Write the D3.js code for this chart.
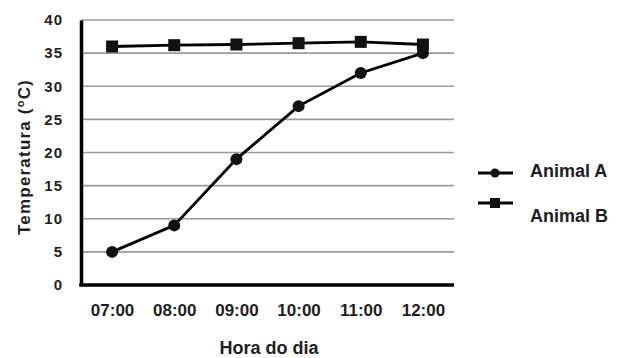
<!DOCTYPE html>
<html>
<head>
<meta charset="utf-8">
<script src="https://cdn.jsdelivr.net/npm/d3@7"></script>
<style>
  html, body { margin: 0; padding: 0; background: #fff; }
  svg { display: block; font-family: Arial, "Liberation Sans", sans-serif; }
</style>
</head>
<body>
<svg id="chart" width="627" height="358"></svg>
<script>
// Hours of the day (x categories)
const hours = ["07:00", "08:00", "09:00", "10:00", "11:00", "12:00"];
// Body temperature (°C) for each animal
const animalA = [5, 9, 19, 27, 32, 35];
const animalB = [36, 36.2, 36.3, 36.5, 36.7, 36.3];
// Y tick values
const yTicks = [0, 5, 10, 15, 20, 25, 30, 35, 40];

const svg = d3.select("#chart");
const plotLeft = 81, plotRight = 454, plotTop = 20, plotBottom = 285;
const ink = "#1e1e1e";

const x = d3.scalePoint().domain(hours).range([plotLeft, plotRight]).padding(0.5);
const y = d3.scaleLinear().domain([0, 40]).range([plotBottom, plotTop]);

// Horizontal gridlines
svg.append("g")
  .selectAll("line")
  .data(yTicks.filter(d => d > 0))
  .join("line")
  .attr("x1", plotLeft).attr("x2", plotRight)
  .attr("y1", d => y(d)).attr("y2", d => y(d))
  .attr("stroke", "#9a9a9a").attr("stroke-width", 1.7);

// Y axis
const yAxis = svg.append("g")
  .attr("transform", `translate(${plotLeft},0)`)
  .call(d3.axisLeft(y).tickValues(yTicks).tickSize(0).tickPadding(18));
yAxis.select(".domain").attr("stroke", "#000").attr("stroke-width", 3.5);
yAxis.selectAll("text")
  .attr("font-size", 15).attr("font-weight", "bold").attr("fill", ink)
  .attr("letter-spacing", 1)
  .attr("font-family", "Arial, 'Liberation Sans', sans-serif");

// X axis
const xAxis = svg.append("g")
  .attr("transform", `translate(0,${plotBottom})`)
  .call(d3.axisBottom(x).tickSize(0).tickPadding(19));
xAxis.select(".domain").attr("stroke", "#000").attr("stroke-width", 3.5)
  .attr("d", `M${plotLeft - 1.75},0H${plotRight}`);
xAxis.selectAll("text")
  .attr("font-size", 17).attr("font-weight", "bold").attr("fill", ink)
  .attr("font-family", "Arial, 'Liberation Sans', sans-serif");

// Axis titles
svg.append("text")
  .attr("x", 269).attr("y", 354)
  .attr("text-anchor", "middle")
  .attr("font-size", 18).attr("font-weight", "bold").attr("fill", ink)
  .text("Hora do dia");

const yTitle = svg.append("text")
  .attr("transform", "translate(30,157) rotate(-90)")
  .attr("text-anchor", "middle")
  .attr("font-size", 17).attr("font-weight", "bold").attr("fill", ink)
  .attr("letter-spacing", 1.2);
yTitle.append("tspan").text("Temperatura (");
yTitle.append("tspan").attr("font-size", 11).attr("dy", -6).text("o");
yTitle.append("tspan").attr("dy", 6).text("C)");

const line = d3.line().x((d, i) => x(hours[i])).y(d => y(d));

// Animal A series
svg.append("path").datum(animalA)
  .attr("d", line).attr("fill", "none")
  .attr("stroke", "#000").attr("stroke-width", 2.8);
svg.append("g").selectAll("circle").data(animalA).join("circle")
  .attr("cx", (d, i) => x(hours[i])).attr("cy", d => y(d))
  .attr("r", 6).attr("fill", "#111");

// Animal B series
svg.append("path").datum(animalB)
  .attr("d", line).attr("fill", "none")
  .attr("stroke", "#000").attr("stroke-width", 2.8);
svg.append("g").selectAll("rect").data(animalB).join("rect")
  .attr("x", (d, i) => x(hours[i]) - 6).attr("y", d => y(d) - 6)
  .attr("width", 12).attr("height", 12).attr("fill", "#111");

// Legend
const legend = svg.append("g");
const items = [
  { label: "Animal A", shape: "circle", yy: 173, ty: 177 },
  { label: "Animal B", shape: "square", yy: 203, ty: 222 }
];
items.forEach(it => {
  legend.append("line")
    .attr("x1", 478).attr("x2", 513).attr("y1", it.yy).attr("y2", it.yy)
    .attr("stroke", "#000").attr("stroke-width", 2.8);
  if (it.shape === "circle") {
    legend.append("circle").attr("cx", 495).attr("cy", it.yy).attr("r", 4.5).attr("fill", "#111");
  } else {
    legend.append("rect").attr("x", 490).attr("y", it.yy - 5).attr("width", 10).attr("height", 10).attr("fill", "#111");
  }
  legend.append("text")
    .attr("x", 530).attr("y", it.ty)
    .attr("font-size", 18).attr("font-weight", "bold").attr("fill", ink)
    .text(it.label);
});
</script>
</body>
</html>
